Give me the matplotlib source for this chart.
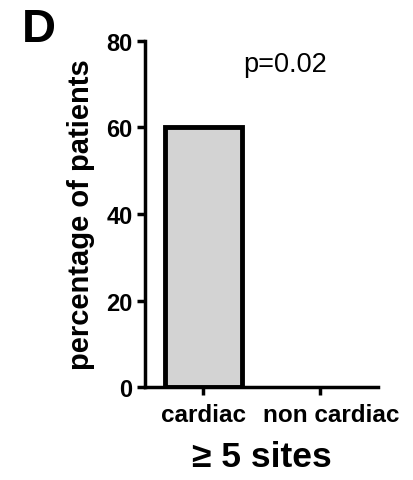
import matplotlib
matplotlib.use("Agg")
import matplotlib.pyplot as plt
import matplotlib.transforms as mtransforms
import numpy as np

plt.rcParams["font.family"] = ["Liberation Sans", "DejaVu Sans"]

categories = ["cardiac", "non cardiac"]
percentages = [60, 0]
y_ticks = [0, 20, 40, 60, 80]
p_text = "p=0.02"
x_title = "\u2265 5 sites"
panel = "D"

fig = plt.figure(figsize=(4.13, 4.81), dpi=100)
ax = fig.add_axes([0.351, 0.193, 0.564, 0.720])

x = np.arange(len(categories))
edge_w = [3.5 if v > 0 else 0 for v in percentages]
ax.bar(x, percentages, width=0.66, color="#d3d3d3", edgecolor="black",
       linewidth=edge_w, zorder=1)

ax.set_xlim(-0.5, 1.5)
ax.set_ylim(0, 80)
ax.set_yticks(y_ticks)
ax.set_yticklabels([str(t) for t in y_ticks], fontsize=17, fontweight="bold")
ax.set_xticks(x)
ax.set_xticklabels([])

# category labels; the second one sits a bit right of its tick in the original
label_shift = [0, 0.10]
trans = mtransforms.blended_transform_factory(ax.transData, ax.transAxes)
for xi, lab, dx in zip(x, categories, label_shift):
    ax.text(xi + dx, -0.046, lab, transform=trans, fontsize=17.5,
            fontweight="bold", ha="center", va="top")

for s in ["top", "right"]:
    ax.spines[s].set_visible(False)
for s in ["left", "bottom"]:
    ax.spines[s].set_linewidth(2.5)
    ax.spines[s].set_zorder(3)
ax.tick_params(width=2.5, length=6, pad=3, colors="black")

ax.set_ylabel("percentage of patients", fontsize=21, fontweight="bold", labelpad=8)
ax.set_xlabel(x_title, fontsize=25.5, fontweight="bold")
ax.xaxis.set_label_coords(0.5, -0.228)
ax.xaxis.label.set_va("baseline")

ax.text(0.70, 73, p_text, fontsize=19.5, ha="center", va="baseline")
fig.text(0.053, 0.913, panel, fontsize=34, fontweight="bold", ha="left", va="baseline")

fig.savefig("out.png", dpi=100)
